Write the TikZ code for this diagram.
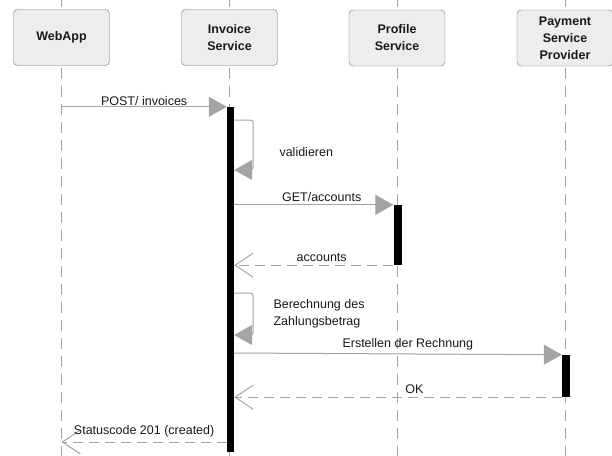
\documentclass[tikz,border=0pt]{standalone}
\usepackage{fontspec}
\setmainfont{Liberation Sans}
\usetikzlibrary{arrows.meta,backgrounds}
\definecolor{linegray}{HTML}{A4A4A4}
\definecolor{boxgray}{HTML}{EDEDED}

\begin{document}
\begin{tikzpicture}[x=1pt, y=-1pt,
        every node/.style={font=\fontsize{12.5}{17}\selectfont, text=black!90},
        actor/.style={draw=black!55, fill=boxgray, rounded corners=4pt, minimum width=96pt,
                      minimum height=56pt, inner sep=0pt, align=center,
                      font=\bfseries\fontsize{12.5}{17}\selectfont},
        lifeline/.style={draw=linegray, line width=0.8pt, dash pattern=on 11pt off 7pt},
        bar/.style={fill=black, minimum width=7pt, inner sep=0pt},
        msg/.style={draw=linegray, line width=1pt, -{Triangle[length=18pt, width=20pt]}},
        selfmsg/.style={msg, rounded corners=3pt},
        reply/.style={draw=linegray, line width=1pt, dash pattern=on 10pt off 6pt,
                      -{Straight Barb[length=18pt, width=24pt, line width=1pt]}},
        msgtext/.style={above, inner sep=3pt},
        ]
    \useasboundingbox (0,0) rectangle (612,455);

    \node[actor] (webapp) at (61.5,37.5) {WebApp};
    \node[actor] (invoice) at (229.5,37.5) {Invoice\\Service};
    \node[actor] (profile) at (397,38) {Profile\\Service};
    \node[actor] (psp) at (565,38) {Payment\\Service\\Provider};

    \begin{scope}[on background layer]
        \foreach \n in {webapp,invoice,profile,psp}
            \draw[lifeline] (\n.center |- 0,-4) -- (\n.center |- 0,460);
    \end{scope}

    \node[bar, minimum height=345pt] (invbar) at (230.5,279.5) {};
    \node[bar, minimum height=60pt, minimum width=8pt] (profbar) at (397.5,235) {};
    \node[bar, minimum height=42pt, minimum width=8pt] (pspbar) at (566,376) {};

    \coordinate (val) at (0,120);
    \coordinate (calc) at (0,293);
    \coordinate (create) at (0,353);
    \coordinate (status) at (0,442);

    \draw[msg] (webapp |- invbar.north) -- node[msgtext, inner sep=1pt] {POST/ invoices} (invbar.north west);
    \draw[selfmsg] (invbar.east |- val) -- ++(19,0) -- ++(0,50) -- ++(-19,0);
    \node[anchor=west] (valtext) at (276,152) {validieren};
    \draw[msg] (invbar.east |- profbar.north) -- node[msgtext, pos=0.55] {GET/accounts} (profbar.north west);
    \draw[reply] (profbar.south west) -- node[msgtext, pos=0.45] {accounts} (invbar.east |- profbar.south);
    \draw[selfmsg] (invbar.east |- calc) -- ++(19,0) -- ++(0,42) -- ++(-19,0);
    \node[anchor=west, align=left] (calctext) at (270,313.5) {Berechnung des\\Zahlungsbetrag};
    \draw[msg] (invbar.east |- create) -- node[msgtext, pos=0.53] {Erstellen der Rechnung} (pspbar.north west);
    \draw[reply] (pspbar.south west) -- node[msgtext, pos=0.45] {OK} (invbar.east |- pspbar.south);
    \draw[reply] (invbar.west |- status) -- node[msgtext, inner sep=4pt] {Statuscode 201 (created)} (webapp |- status);
\end{tikzpicture}
\end{document}
